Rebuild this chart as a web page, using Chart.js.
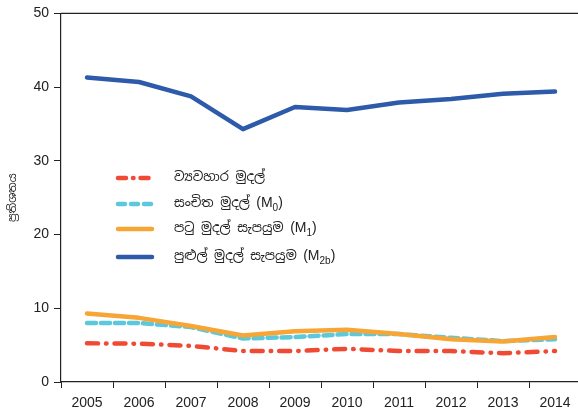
<!DOCTYPE html>
<html><head><meta charset="utf-8">
<script src="https://cdn.jsdelivr.net/npm/chart.js@4/dist/chart.umd.min.js"></script>
<style>html,body{margin:0;padding:0;background:#fff;overflow:hidden;width:578px;height:416px}#wrap{position:absolute;left:0;top:0;width:600px;height:416px}</style>
</head><body><div id="wrap"><canvas id="c" width="600" height="416"></canvas></div>
<script>
const years = ['2005','2006','2007','2008','2009','2010','2011','2012','2013','2014'];
const yTicks = [0,10,20,30,40,50];
const yTitle = 'ප්‍රතිශතය';
const currency = [5.25,5.2,4.9,4.2,4.2,4.5,4.2,4.2,3.9,4.2];
const reserveM0 = [8.0,8.0,7.45,5.9,6.1,6.5,6.5,6.0,5.55,5.8];
const narrowM1 = [9.3,8.7,7.6,6.3,6.9,7.1,6.5,5.8,5.5,6.1];
const broadM2b = [41.3,40.7,38.75,34.3,37.3,36.9,37.9,38.4,39.1,39.4];
const labels = ['ව්‍යවහාර මුදල්','සංචිත මුදල් (M','පටු මුදල් සැපයුම (M','පුළුල් මුදල් සැපයුම (M'];
const subs = ['', '0', '1', '2b'];

const FONT = "'Liberation Sans', Arial, sans-serif";
const SIN = "'Noto Sans Sinhala','Noto Sans','DejaVu Sans',sans-serif";

const legendPlugin = {
  id:'customLegend',
  afterDraw(chart){
    const ctx = chart.ctx;
    const rows = [178, 204, 229, 257];
    const sets = [0,1,2,3].map(i => chart.data.datasets.find(d => d.legendIdx === i));
    ctx.save();
    sets.forEach((ds, i) => {
      const y = rows[i];
      ctx.strokeStyle = ds.borderColor;
      ctx.lineWidth = ds.borderWidth;
      ctx.lineCap = 'round';
      ctx.setLineDash(ds.legendDash || []);
      ctx.beginPath(); ctx.moveTo(118, y); ctx.lineTo(152, y); ctx.stroke();
      ctx.setLineDash([]);
      ctx.fillStyle = '#222';
      ctx.textBaseline = 'middle';
      ctx.font = '13px ' + SIN;
      const parts = ds.label.split('(');
      let x = 174;
      ctx.fillText(parts[0], x, y - 1);
      x += ctx.measureText(parts[0]).width;
      if (parts.length > 1) {
        ctx.font = '14px ' + FONT;
        const t = '(' + parts[1];
        ctx.fillText(t, x, y - 1);
        x += ctx.measureText(t).width;
        ctx.font = '10px ' + FONT;
        ctx.fillText(ds.sub, x, y + 4);
        x += ctx.measureText(ds.sub).width;
        ctx.font = '14px ' + FONT;
        ctx.fillText(')', x, y - 1);
      }
    });
    // top border
    const a = chart.chartArea;
    ctx.strokeStyle = '#222'; ctx.lineWidth = 1.2; ctx.setLineDash([]);
    ctx.beginPath(); ctx.moveTo(a.left, a.top); ctx.lineTo(a.right, a.top); ctx.stroke();
    ctx.restore();
  }
};

const base = {fill:false, pointRadius:0, tension:0, borderCapStyle:'round', borderJoinStyle:'round'};
new Chart(document.getElementById('c'), {
  type:'line',
  data:{ labels: years, datasets:[
    Object.assign({}, base, {label:labels[2], sub:subs[2], legendIdx:2, data:narrowM1, borderColor:'#f7a535', borderWidth:4.5, order:0}),
    Object.assign({}, base, {label:labels[1], sub:subs[1], legendIdx:1, data:reserveM0, borderColor:'#5cc8dc', borderWidth:4.5, borderDash:[9,5], legendDash:[7,6], order:1}),
    Object.assign({}, base, {label:labels[0], sub:subs[0], legendIdx:0, data:currency, borderColor:'#f04a35', borderWidth:4.5, borderDash:[11,8,0.5,8], legendDash:[8,7,0.5,7], order:2}),
    Object.assign({}, base, {label:labels[3], sub:subs[3], legendIdx:3, data:broadM2b, borderColor:'#2e5aaa', borderWidth:4.5, order:3})
  ]},
  options:{
    responsive:false, animation:false,
    layout:{padding:{left:0,right:19,top:12,bottom:-2}},
    plugins:{legend:{display:false}, tooltip:{enabled:false}},
    scales:{
      x:{
        offset:true,
        grid:{display:true, offset:true, drawOnChartArea:false, drawTicks:true, tickLength:6, color:'#222', lineWidth:1},
        border:{display:true, color:'#222', width:1.2},
        ticks:{color:'#222', font:{family:FONT, size:14, lineHeight:1}, padding:8, maxRotation:0, autoSkip:false}
      },
      y:{
        min:0, max:50,
        afterBuildTicks(s){ s.ticks = yTicks.map(v => ({value:v})); },
        afterFit(s){ s.width = 61; },
        grid:{display:true, drawOnChartArea:false, drawTicks:true, tickLength:7, color:'#222', lineWidth:1},
        border:{display:true, color:'#222', width:1.2},
        ticks:{color:'#222', font:{family:FONT, size:14}, padding:5},
        title:{display:true, text:yTitle, color:'#222', font:{family:SIN, size:11}, padding:{top:6,bottom:4}}
      }
    }
  },
  plugins:[legendPlugin]
});
</script></body></html>
